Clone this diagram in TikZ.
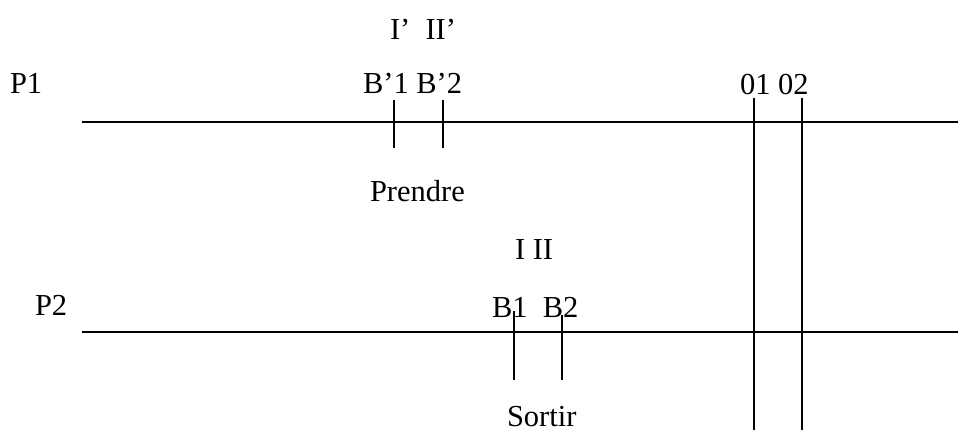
\documentclass[tikz,border=0pt]{standalone}
\usepackage{fontspec}
\setmainfont{Liberation Serif}
\begin{document}
\begin{tikzpicture}[x=1pt,y=-1pt,
  lbl/.style={anchor=base west,inner sep=0pt,outer sep=0pt,font=\fontsize{30.5}{36}\selectfont},
  ln/.style={line width=1.8pt,line cap=butt}]
\useasboundingbox (0,0) rectangle (958,430);
% labels
\node[lbl] (p1) at (10,94) {P1};
\node[lbl] (ip) at (390,40) {I’~~II’};
\node[lbl] (bp) at (363,94) {B’1 B’2};
\node[lbl] (o) at (740,95) {01 02};
\node[lbl] (pr) at (370,202) {Prendre};
\node[lbl] (i) at (515,260) {I II};
\node[lbl] (p2) at (35,316) {P2};
\node[lbl] (b) at (492,317) {B1~~B2};
\node[lbl] (so) at (507,426) {Sortir};
% coordinates
\coordinate (l1a) at (82,122);  \coordinate (l1b) at (958,122);
\coordinate (l2a) at (82,332);  \coordinate (l2b) at (958,332);
\coordinate (tb1a) at (394,100); \coordinate (tb1b) at (394,148);
\coordinate (tb2a) at (443,100); \coordinate (tb2b) at (443,148);
\coordinate (t1a) at (514,311); \coordinate (t1b) at (514,380);
\coordinate (t2a) at (562,315); \coordinate (t2b) at (562,380);
\coordinate (o1a) at (754,98); \coordinate (o1b) at (754,430);
\coordinate (o2a) at (802,98); \coordinate (o2b) at (802,430);
% lines
\draw[ln] (l1a) -- (l1b);
\draw[ln] (l2a) -- (l2b);
\draw[ln] (tb1a) -- (tb1b);
\draw[ln] (tb2a) -- (tb2b);
\draw[ln] (t1a) -- (t1b);
\draw[ln] (t2a) -- (t2b);
\draw[ln] (o1a) -- (o1b);
\draw[ln] (o2a) -- (o2b);
\end{tikzpicture}
\end{document}
